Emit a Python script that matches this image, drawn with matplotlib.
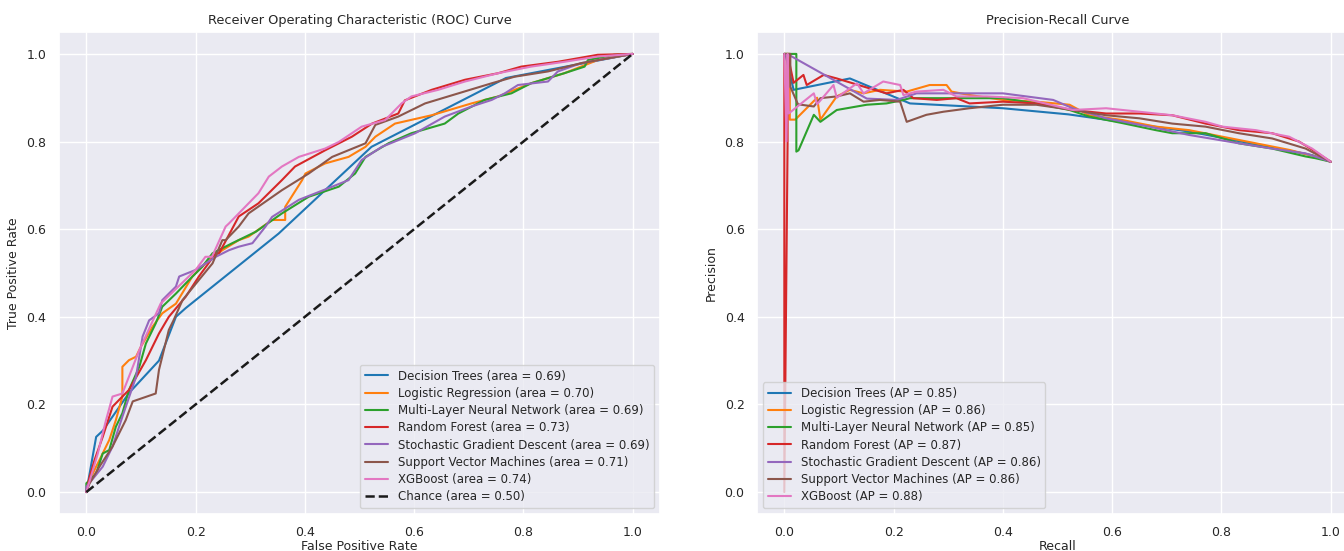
import matplotlib
matplotlib.use("Agg")
import matplotlib.pyplot as plt
import seaborn as sns

sns.set_theme(style="darkgrid")
plt.rcParams["font.family"] = ["DejaVu Sans"]

models = [
    "Decision Trees",
    "Logistic Regression",
    "Multi-Layer Neural Network",
    "Random Forest",
    "Stochastic Gradient Descent",
    "Support Vector Machines",
    "XGBoost",
]
colors = ["#1f77b4", "#ff7f0e", "#2ca02c", "#d62728", "#9467bd", "#8c564b", "#e377c2"]
roc_auc = [0.69, 0.70, 0.69, 0.73, 0.69, 0.71, 0.74]
avg_prec = [0.85, 0.86, 0.85, 0.87, 0.86, 0.86, 0.88]

# ROC curves (fpr, tpr)
roc_dt_fpr = [0, 0.018, 0.03, 0.078, 0.133, 0.164, 0.182, 0.352, 0.522, 0.768, 1.0]
roc_dt_tpr = [0, 0.126, 0.14, 0.226, 0.30, 0.40, 0.42, 0.59, 0.788, 0.945, 1.0]

roc_lr_fpr = [0, 0.006, 0.024, 0.042, 0.054, 0.066, 0.066, 0.078, 0.091, 0.10, 0.121, 0.139,
              0.164, 0.194, 0.218, 0.249, 0.279, 0.297, 0.34, 0.364, 0.364, 0.395, 0.401,
              0.437, 0.48, 0.511, 0.529, 0.565, 0.632, 0.705, 0.754, 0.814, 0.875, 0.936, 1.0]
roc_lr_tpr = [0, 0.028, 0.073, 0.119, 0.164, 0.218, 0.286, 0.301, 0.309, 0.332, 0.377, 0.408,
              0.43, 0.492, 0.522, 0.552, 0.575, 0.583, 0.621, 0.621, 0.651, 0.712, 0.727,
              0.75, 0.765, 0.788, 0.811, 0.841, 0.86, 0.887, 0.903, 0.933, 0.956, 0.986, 1.0]

roc_mlp_fpr = [0, 0.0, 0.018, 0.03, 0.042, 0.054, 0.066, 0.078, 0.097, 0.109, 0.127, 0.139,
               0.164, 0.188, 0.212, 0.231, 0.267, 0.31, 0.358, 0.407, 0.462, 0.492, 0.511,
               0.553, 0.595, 0.656, 0.681, 0.729, 0.778, 0.814, 0.875, 0.912, 0.918, 0.966, 1.0]
roc_mlp_tpr = [0, 0.02, 0.042, 0.088, 0.096, 0.149, 0.18, 0.233, 0.286, 0.339, 0.385, 0.423,
               0.453, 0.484, 0.514, 0.545, 0.568, 0.594, 0.636, 0.674, 0.697, 0.727, 0.765,
               0.796, 0.819, 0.841, 0.864, 0.895, 0.91, 0.933, 0.956, 0.971, 0.986, 0.998, 1.0]

roc_rf_fpr = [0, 0.006, 0.015, 0.03, 0.048, 0.066, 0.078, 0.109, 0.133, 0.151, 0.182, 0.206,
              0.237, 0.243, 0.279, 0.315, 0.358, 0.382, 0.437, 0.486, 0.523, 0.571, 0.583,
              0.632, 0.693, 0.754, 0.796, 0.863, 0.936, 1.0]
roc_rf_tpr = [0, 0.035, 0.073, 0.126, 0.195, 0.218, 0.233, 0.301, 0.362, 0.40, 0.446, 0.492,
              0.545, 0.545, 0.629, 0.659, 0.712, 0.743, 0.78, 0.811, 0.841, 0.864, 0.894,
              0.918, 0.941, 0.956, 0.971, 0.982, 0.998, 1.0]

roc_sgd_fpr = [0, 0.0, 0.03, 0.048, 0.066, 0.091, 0.103, 0.115, 0.133, 0.139, 0.164, 0.17,
               0.20, 0.237, 0.261, 0.279, 0.304, 0.328, 0.34, 0.389, 0.45, 0.48, 0.504,
               0.541, 0.602, 0.656, 0.705, 0.742, 0.766, 0.79, 0.845, 0.863, 0.906, 1.0]
roc_sgd_tpr = [0, 0.012, 0.058, 0.104, 0.172, 0.263, 0.355, 0.392, 0.408, 0.438, 0.469, 0.492,
               0.507, 0.537, 0.552, 0.56, 0.568, 0.606, 0.628, 0.667, 0.697, 0.712, 0.758,
               0.788, 0.819, 0.857, 0.88, 0.895, 0.91, 0.929, 0.937, 0.96, 0.979, 1.0]

roc_svm_fpr = [0, 0.006, 0.024, 0.048, 0.072, 0.085, 0.127, 0.133, 0.151, 0.16, 0.176, 0.206,
               0.231, 0.249, 0.255, 0.279, 0.297, 0.358, 0.407, 0.45, 0.511, 0.529, 0.571,
               0.62, 0.681, 0.742, 0.784, 0.845, 0.906, 1.0]
roc_svm_tpr = [0, 0.02, 0.058, 0.104, 0.164, 0.207, 0.225, 0.279, 0.37, 0.393, 0.438, 0.484,
               0.522, 0.575, 0.575, 0.606, 0.636, 0.689, 0.727, 0.765, 0.796, 0.838, 0.857,
               0.887, 0.91, 0.933, 0.948, 0.96, 0.979, 1.0]

roc_xgb_fpr = [0, 0.021, 0.036, 0.048, 0.066, 0.097, 0.136, 0.20, 0.218, 0.23, 0.255, 0.261,
               0.279, 0.315, 0.334, 0.358, 0.389, 0.437, 0.462, 0.504, 0.547, 0.577, 0.595,
               0.644, 0.693, 0.754, 0.814, 0.875, 0.936, 1.0]
roc_xgb_tpr = [0, 0.088, 0.164, 0.218, 0.225, 0.324, 0.43, 0.507, 0.537, 0.537, 0.606, 0.613,
               0.636, 0.682, 0.72, 0.743, 0.765, 0.784, 0.799, 0.834, 0.849, 0.887, 0.903,
               0.918, 0.937, 0.956, 0.971, 0.982, 0.994, 1.0]

# precision-recall curves (recall, precision)
pr_dt_rec = [0, 0.002, 0.017, 0.12, 0.23, 0.40, 0.52, 0.74, 0.966, 1.0]
pr_dt_prec = [1.0, 1.0, 0.918, 0.944, 0.887, 0.876, 0.862, 0.823, 0.769, 0.754]

pr_lr_rec = [0, 0.01, 0.01, 0.02, 0.06, 0.066, 0.096, 0.12, 0.145, 0.175, 0.224, 0.266, 0.297,
             0.306, 0.34, 0.40, 0.461, 0.522, 0.558, 0.619, 0.68, 0.741, 0.802, 0.863, 0.924,
             0.972, 1.0]
pr_lr_prec = [1.0, 1.0, 0.85, 0.85, 0.90, 0.85, 0.903, 0.918, 0.91, 0.918, 0.914, 0.929, 0.929,
              0.914, 0.906, 0.895, 0.891, 0.884, 0.86, 0.849, 0.834, 0.826, 0.811, 0.796, 0.781,
              0.766, 0.754]

pr_mlp_rec = [0, 0.022, 0.022, 0.026, 0.054, 0.066, 0.096, 0.151, 0.187, 0.218, 0.23, 0.279,
              0.339, 0.40, 0.461, 0.522, 0.558, 0.619, 0.68, 0.71, 0.771, 0.832, 0.893, 0.954,
              0.972, 1.0]
pr_mlp_prec = [1.0, 1.0, 0.777, 0.78, 0.861, 0.845, 0.872, 0.884, 0.887, 0.895, 0.899, 0.899,
               0.899, 0.899, 0.887, 0.872, 0.857, 0.842, 0.826, 0.819, 0.819, 0.796, 0.784, 0.766,
               0.762, 0.754]

pr_rf_rec = [0, 0.0, 0.006, 0.006, 0.017, 0.035, 0.041, 0.072, 0.096, 0.157, 0.187, 0.218,
             0.236, 0.279, 0.315, 0.339, 0.40, 0.461, 0.528, 0.589, 0.65, 0.71, 0.771, 0.832,
             0.893, 0.942, 0.972, 1.0]
pr_rf_prec = [1.0, 0.0, 0.8, 1.0, 0.934, 0.952, 0.929, 0.952, 0.944, 0.921, 0.91, 0.918,
              0.899, 0.895, 0.899, 0.887, 0.891, 0.887, 0.872, 0.864, 0.864, 0.86, 0.841, 0.826,
              0.819, 0.80, 0.777, 0.754]

pr_sgd_rec = [0, 0.008, 0.151, 0.206, 0.242, 0.291, 0.40, 0.492, 0.528, 0.589, 0.668, 0.741,
              0.832, 0.893, 0.954, 1.0]
pr_sgd_prec = [1.0, 0.998, 0.898, 0.895, 0.91, 0.91, 0.91, 0.895, 0.876, 0.853, 0.834, 0.815,
               0.796, 0.784, 0.773, 0.754]

pr_svm_rec = [0, 0.011, 0.011, 0.025, 0.054, 0.066, 0.096, 0.12, 0.145, 0.175, 0.212, 0.224,
              0.26, 0.291, 0.339, 0.40, 0.461, 0.528, 0.589, 0.65, 0.71, 0.771, 0.832, 0.893,
              0.954, 1.0]
pr_svm_prec = [1.0, 1.0, 0.925, 0.885, 0.88, 0.899, 0.903, 0.91, 0.891, 0.895, 0.891, 0.845,
               0.861, 0.868, 0.876, 0.884, 0.884, 0.872, 0.86, 0.853, 0.841, 0.834, 0.819, 0.807,
               0.784, 0.754]

pr_xgb_rec = [0, 0.004, 0.006, 0.008, 0.054, 0.06, 0.09, 0.096, 0.133, 0.145, 0.181, 0.212,
              0.218, 0.242, 0.291, 0.315, 0.37, 0.437, 0.528, 0.589, 0.65, 0.71, 0.771, 0.802,
              0.863, 0.924, 0.966, 1.0]
pr_xgb_prec = [1.0, 0.8, 1.0, 0.864, 0.91, 0.885, 0.929, 0.90, 0.933, 0.91, 0.937, 0.929,
               0.906, 0.914, 0.918, 0.903, 0.903, 0.899, 0.872, 0.876, 0.868, 0.86, 0.845, 0.834,
               0.826, 0.811, 0.784, 0.754]

roc_x = [roc_dt_fpr, roc_lr_fpr, roc_mlp_fpr, roc_rf_fpr, roc_sgd_fpr, roc_svm_fpr, roc_xgb_fpr]
roc_y = [roc_dt_tpr, roc_lr_tpr, roc_mlp_tpr, roc_rf_tpr, roc_sgd_tpr, roc_svm_tpr, roc_xgb_tpr]
pr_x = [pr_dt_rec, pr_lr_rec, pr_mlp_rec, pr_rf_rec, pr_sgd_rec, pr_svm_rec, pr_xgb_rec]
pr_y = [pr_dt_prec, pr_lr_prec, pr_mlp_prec, pr_rf_prec, pr_sgd_prec, pr_svm_prec, pr_xgb_prec]

fig = plt.figure(figsize=(13.44, 5.51), dpi=100)
# right panel runs past the figure edge, like the cropped original
ax1 = fig.add_axes([59 / 1344, 37 / 551, 601 / 1344, 482 / 551])
ax2 = fig.add_axes([757 / 1344, 37 / 551, 601 / 1344, 482 / 551])

for i, name in enumerate(models):
    ax1.plot(roc_x[i], roc_y[i], color=colors[i], lw=1.5,
             label=f"{name} (area = {roc_auc[i]:.2f})")
ax1.plot([0, 1], [0, 1], "k--", lw=1.8, label="Chance (area = 0.50)")
ax1.set_xlim(-0.05, 1.05)
ax1.set_ylim(-0.05, 1.05)
ax1.set_xlabel("False Positive Rate", fontsize=9, labelpad=0)
ax1.set_ylabel("True Positive Rate", fontsize=9, labelpad=5)
ax1.set_title("Receiver Operating Characteristic (ROC) Curve", fontsize=9.3, pad=6)
ax1.legend(loc="lower right", fontsize=8.5, labelspacing=0.36)

for i, name in enumerate(models):
    ax2.plot(pr_x[i], pr_y[i], color=colors[i], lw=1.5,
             label=f"{name} (AP = {avg_prec[i]:.2f})")
ax2.set_xlim(-0.05, 1.05)
ax2.set_ylim(-0.05, 1.05)
ax2.set_xlabel("Recall", fontsize=9, labelpad=0)
ax2.set_ylabel("Precision", fontsize=9, labelpad=5)
ax2.set_title("Precision-Recall Curve", fontsize=9.3, pad=6)
ax2.legend(loc="lower left", fontsize=8.5, labelspacing=0.36)

for ax in (ax1, ax2):
    ax.set_xticks([0, 0.2, 0.4, 0.6, 0.8, 1.0])
    ax.set_yticks([0, 0.2, 0.4, 0.6, 0.8, 1.0])
    ax.tick_params(labelsize=9, pad=3)

fig.savefig("out.png", dpi=100)
